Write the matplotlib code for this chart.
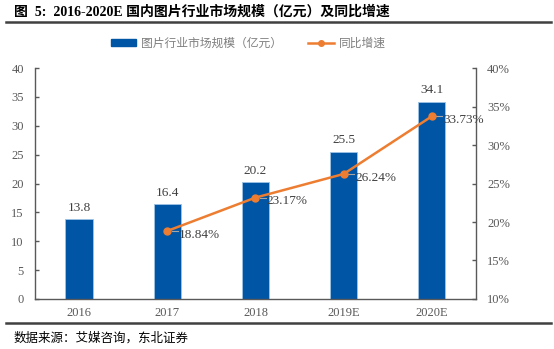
import numpy as np
import matplotlib.pyplot as plt
from matplotlib.lines import Line2D
from matplotlib.patches import Patch

plt.rcParams['font.family'] = ['Liberation Serif', 'Noto Sans CJK SC']

years = ['2016', '2017', '2018', '2019E', '2020E']
market = [13.8, 16.4, 20.2, 25.5, 34.1]
growth_years = ['2017', '2018', '2019E', '2020E']
growth = [18.84, 23.17, 26.24, 33.73]

blue = '#0055a5'
orange = '#ed7d31'
grey = '#595959'

fig = plt.figure(figsize=(5.54, 3.49), dpi=100)
ax = fig.add_axes([0.0632, 0.1433, 0.7958, 0.6617])
ax2 = ax.twinx()

x = np.arange(len(years))
ax.bar(x, market, width=0.31, color=blue, edgecolor='#9dc3e6', linewidth=0.6, zorder=2)
for xi, v in zip(x, market):
    ax.text(xi, v + 1.0, f'{v:.1f}', ha='center', va='bottom', fontsize=9.5, color='#404040')

gx = np.array([years.index(y) for y in growth_years])
ax2.plot(gx, growth, color=orange, lw=1.8, marker='o', ms=5, zorder=3)
for xi, v in zip(gx, growth):
    ax2.plot([xi + 0.05, xi + 0.12], [v, v], color='#a6a6a6', lw=0.8)
    ax2.text(xi + 0.13, v - 0.5, f'{v:.2f}%', ha='left', va='center', fontsize=9.5, color='#404040')

ax.set_xlim(-0.5, len(years) - 0.5)
ax.set_ylim(0, 40)
ax.set_yticks(range(0, 41, 5))
ax2.set_ylim(10, 40)
ax2.set_yticks(range(10, 41, 5))
ax2.set_yticklabels([f'{t}%' for t in range(10, 41, 5)])
ax.set_xticks(x)
ax.set_xticklabels(years)

for a in (ax, ax2):
    a.spines['top'].set_visible(False)
    for s in a.spines.values():
        s.set_color(grey)
        s.set_linewidth(1.0)
    a.tick_params(colors=grey, labelsize=9, length=3, direction='in', width=1.0)
ax.spines['right'].set_visible(False)
ax2.spines['left'].set_visible(False)
ax2.spines['bottom'].set_visible(False)
ax.tick_params(axis='x', length=0, pad=6)
ax.tick_params(axis='y', pad=8)
ax2.tick_params(axis='y', pad=8)

handles = [Patch(color=blue), Line2D([], [], color=orange, lw=1.8, marker='o', ms=4)]
fig.legend(handles, ['图片行业市场规模（亿元）', '同比增速'], loc='center',
           bbox_to_anchor=(0.448, 0.875), ncol=2, frameon=False, fontsize=8.5,
           labelcolor='#7f7f7f', handlelength=2.2, handleheight=0.5,
           columnspacing=2.2, handletextpad=0.4)

fig.text(0.025, 0.965, '图  5:  2016-2020E 国内图片行业市场规模（亿元）及同比增速',
         fontsize=10, fontweight='bold', va='center', ha='left', color='black')
fig.add_artist(Line2D([0.01, 0.995], [0.937, 0.937], color='#404040', lw=1.8))
fig.add_artist(Line2D([0.01, 0.995], [0.075, 0.075], color='#404040', lw=1.8))
fig.text(0.025, 0.03, '数据来源：艾媒咨询，东北证券', fontsize=9, va='center', ha='left', color='black')

fig.savefig('out.png', dpi=100)
